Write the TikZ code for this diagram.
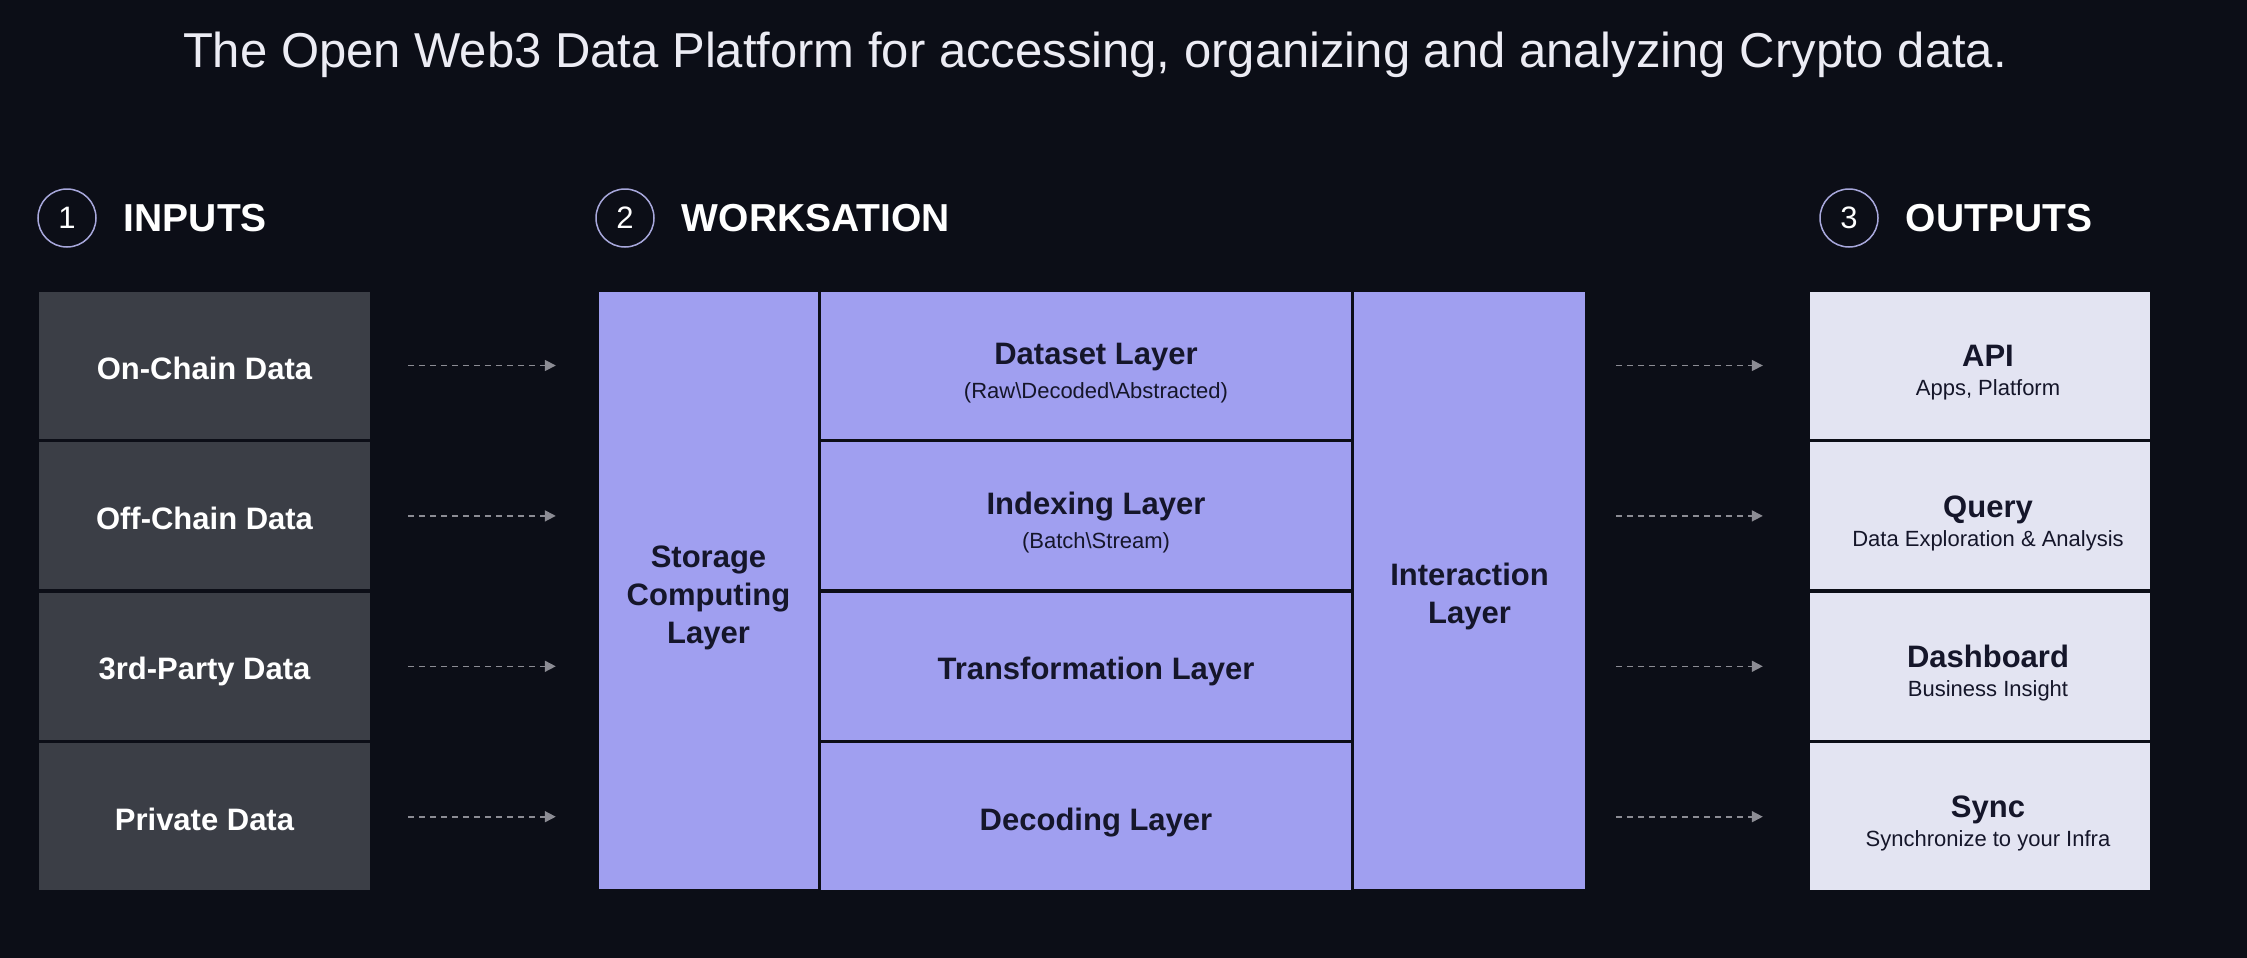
\documentclass[tikz,border=0pt]{standalone}
\usepackage{fontspec}
\setmainfont{Liberation Sans}
\usepackage{xcolor}
\usetikzlibrary{arrows.meta,positioning}

\definecolor{bgnavy}{HTML}{0C0E17}
\definecolor{inputgray}{HTML}{3B3E46}
\definecolor{lavender}{HTML}{A09FF0}
\definecolor{outgray}{HTML}{E3E4F2}
\definecolor{layertext}{HTML}{15162A}
\definecolor{flowgray}{HTML}{8C8C94}
\definecolor{circlering}{HTML}{A8A8DC}
\definecolor{titlewhite}{HTML}{ECECF4}

% title + subtitle, nudged right by #1, line gap #2
\newcommand{\boxlabel}[4]{\hspace*{#1}\rule{0pt}{36pt}\textbf{#3}\\[#2]\hspace*{#1}{\fontsize{22}{26}\selectfont #4}}
\newcommand{\nudged}[2]{\hspace*{#1}#2}

\begin{document}
\begin{tikzpicture}[
  x=1pt, y=-1pt,
  node distance=3pt,
  inbox/.style={fill=inputgray, text=white, minimum width=331pt, minimum height=147pt, inner sep=0pt, text height=27pt, text depth=0pt, font=\fontsize{31}{36}\selectfont\bfseries},
  layerbox/.style={fill=lavender, text=layertext, minimum width=530pt, minimum height=147pt, inner sep=0pt, align=center, font=\fontsize{31}{34}\selectfont},
  flatlayer/.style={layerbox, text height=27pt, text depth=0pt, font=\fontsize{31}{34}\selectfont\bfseries},
  sidebox/.style={fill=lavender, text=layertext, minimum height=597pt, inner sep=0pt, align=center, font=\fontsize{31}{38}\selectfont\bfseries},
  outbox/.style={fill=outgray, text=layertext, minimum width=340pt, minimum height=147pt, inner sep=0pt, align=center, font=\fontsize{31}{34}\selectfont},
  numcircle/.style={circle, draw=circlering, line width=1.5pt, minimum size=58pt, inner sep=0pt, text=white, font=\fontsize{31}{31}\selectfont},
  heading/.style={text=white, inner sep=0pt, font=\fontsize{39}{39}\selectfont\bfseries},
  flow/.style={draw=flowgray, line width=1.6pt, dash pattern=on 6pt off 5pt, -{Triangle[length=11pt,width=11pt]}}
]
\fill[bgnavy] (0,0) rectangle (2247,958);
\useasboundingbox (0,0) rectangle (2247,958);

% title
\node[text=titlewhite, inner sep=0pt, anchor=base, font=\fontsize{49}{49}\selectfont] (title) at (1095,67)
  {The Open Web3 Data Platform for accessing, organizing and analyzing Crypto data.};

% headings
\node[numcircle] (num1) at (67,218) {1};
\node[heading, right=27pt of num1] (inputs) {INPUTS};
\node[numcircle] (num2) at (625,218) {2};
\node[heading, right=27pt of num2] (worksation) {WORKSATION};
\node[numcircle] (num3) at (1849,218) {3};
\node[heading, right=27pt of num3] (outputs) {OUTPUTS};

% inputs
\node[inbox] (onchain) at (204.5,365.5) {On-Chain Data};
\node[inbox, below=of onchain] (offchain) {Off-Chain Data};
\node[inbox, below=of offchain] (thirdparty) {3rd-Party Data};
\node[inbox, below=of thirdparty] (private) {Private Data};

% worksation
\node[sidebox, minimum width=219pt] (storage) at (708.5,590) {\rule{0pt}{37pt}Storage\\Computing\\Layer};
\node[layerbox] (dataset) at (1086,365.5) {\boxlabel{20pt}{0pt}{Dataset Layer}{(Raw\textbackslash Decoded\textbackslash Abstracted)}};
\node[layerbox, below=of dataset] (indexing) {\boxlabel{20pt}{0pt}{Indexing Layer}{(Batch\textbackslash Stream)}};
\node[flatlayer, below=of indexing] (transform) {\nudged{20pt}{Transformation Layer}};
\node[flatlayer, below=of transform] (decoding) {\nudged{20pt}{Decoding Layer}};
\node[sidebox, minimum width=231pt] (interaction) at (1469.5,590) {\rule{0pt}{36pt}Interaction\\Layer};

% outputs
\node[outbox] (api) at (1980,365.5) {\boxlabel{16pt}{-5pt}{API}{Apps, Platform}};
\node[outbox, below=of api] (query) {\boxlabel{16pt}{-5pt}{Query}{Data Exploration \& Analysis}};
\node[outbox, below=of query] (dashboard) {\boxlabel{16pt}{-5pt}{Dashboard}{Business Insight}};
\node[outbox, below=of dashboard] (sync) {\boxlabel{16pt}{-5pt}{Sync}{Synchronize to your Infra}};

% flows
\foreach \src in {onchain,offchain,thirdparty,private}
  \draw[flow, shorten <=38pt, shorten >=43pt] (\src.east) -- (\src.east -| storage.west);
\foreach \dst in {api,query,dashboard,sync}
  \draw[flow, shorten <=31pt, shorten >=47pt] (\dst.west -| interaction.east) -- (\dst.west);
\end{tikzpicture}
\end{document}
